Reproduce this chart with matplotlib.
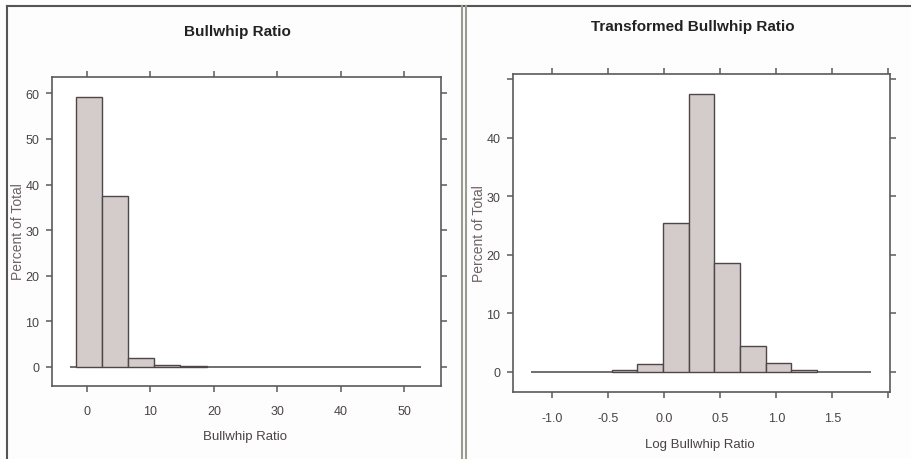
import matplotlib
matplotlib.use("Agg")
import matplotlib.pyplot as plt

# histogram of the raw ratio (percent of total per bin)
raw_start = -1.78
raw_width = 4.13
raw_pct = [59.2, 37.5, 2.0, 0.4, 0.2]
raw_range = (-2.6, 52.7)
raw_xticks = [0, 10, 20, 30, 40, 50]
raw_yticks = [0, 10, 20, 30, 40, 50, 60]

# histogram of the log ratio
log_start = -0.47
log_width = 0.229
log_pct = [0.4, 1.4, 25.5, 47.4, 18.6, 4.5, 1.6, 0.4]
log_range = (-1.19, 1.85)
log_xticks = [-1.0, -0.5, 0.0, 0.5, 1.0, 1.5, 2.0]
log_xlabels = ["-1.0", "-0.5", "0.0", "0.5", "1.0", "1.5", ""]
log_yticks = [0, 10, 20, 30, 40, 50]
log_ylabels = ["0", "10", "20", "30", "40", ""]

FONT = ["Liberation Sans", "DejaVu Sans"]
FILL = "#d4cccb"
EDGE = "#4d4747"
FRAME = "#5a5a5a"
TXT = "#4a4444"


def hist_panel(ax, start, width, pct, rng):
    lefts = [start + i * width for i in range(len(pct))]
    ax.hlines(0, rng[0], rng[1], color=EDGE, lw=1.1, zorder=2)
    ax.bar(lefts, pct, width=width, align="edge", color=FILL,
           edgecolor=EDGE, linewidth=1.0, zorder=3)
    for sp in ax.spines.values():
        sp.set_color(FRAME)
        sp.set_linewidth(1.2)
    ax.tick_params(direction="out", length=4, width=1.1, color=FRAME,
                   top=True, right=True, labeltop=False, labelright=False,
                   labelsize=9, labelcolor=TXT)
    ax.tick_params(axis="x", pad=10)
    ax.tick_params(axis="y", pad=5)
    for lbl in ax.get_xticklabels() + ax.get_yticklabels():
        lbl.set_family(FONT)


plt.rcParams["font.family"] = FONT
fig = plt.figure(figsize=(9.12, 4.6), dpi=100)
fig.patch.set_facecolor("#fdfdfd")

ax1 = fig.add_axes([52 / 912, 1 - 387 / 460, 389 / 912, 309 / 460])
ax1.set_xticks(raw_xticks)
ax1.set_yticks(raw_yticks)
hist_panel(ax1, raw_start, raw_width, raw_pct, raw_range)
ax1.set_xlim(-5.5, 55.8)
ax1.set_ylim(-4.2, 63.6)

ax2 = fig.add_axes([512.7 / 912, 1 - 393.3 / 460, 377.6 / 912, 318.3 / 460])
ax2.set_xticks(log_xticks, log_xlabels)
ax2.set_yticks(log_yticks, log_ylabels)
hist_panel(ax2, log_start, log_width, log_pct, log_range)
ax2.set_xlim(-1.354, 2.018)
ax2.set_ylim(-3.47, 50.9)

# titles and axis labels
fig.text(237 / 912, 1 - 32 / 460, "Bullwhip Ratio", ha="center", va="center",
         weight="bold", fontsize=11, color="#222222")
fig.text(693 / 912, 1 - 27 / 460, "Transformed Bullwhip Ratio", ha="center",
         va="center", weight="bold", fontsize=11, color="#222222")
fig.text(245 / 912, 1 - 437 / 460, "Bullwhip Ratio", ha="center", va="center",
         fontsize=9.5, color=TXT)
fig.text(700 / 912, 1 - 445 / 460, "Log Bullwhip Ratio", ha="center",
         va="center", fontsize=9.5, color=TXT)
fig.text(18 / 912, 1 - 232 / 460, "Percent of Total", ha="center", va="center",
         rotation=90, fontsize=10, color="#6e6262")
fig.text(479 / 912, 1 - 234 / 460, "Percent of Total", ha="center",
         va="center", rotation=90, fontsize=10, color="#6e6262")

# outer border and the double divider between the panels
fig.add_artist(plt.Line2D([7 / 912, 1], [1 - 7 / 460] * 2, color="#555555",
                          lw=1.5, transform=fig.transFigure))
fig.add_artist(plt.Line2D([7 / 912] * 2, [0, 1 - 7 / 460], color="#555555",
                          lw=1.5, transform=fig.transFigure))
for xp in (462.5, 466.5):
    fig.add_artist(plt.Line2D([xp / 912] * 2, [0, 1 - 7 / 460], color="#9a9c92",
                              lw=1.5, transform=fig.transFigure))

fig.savefig("out.png", dpi=100, facecolor=fig.get_facecolor())
